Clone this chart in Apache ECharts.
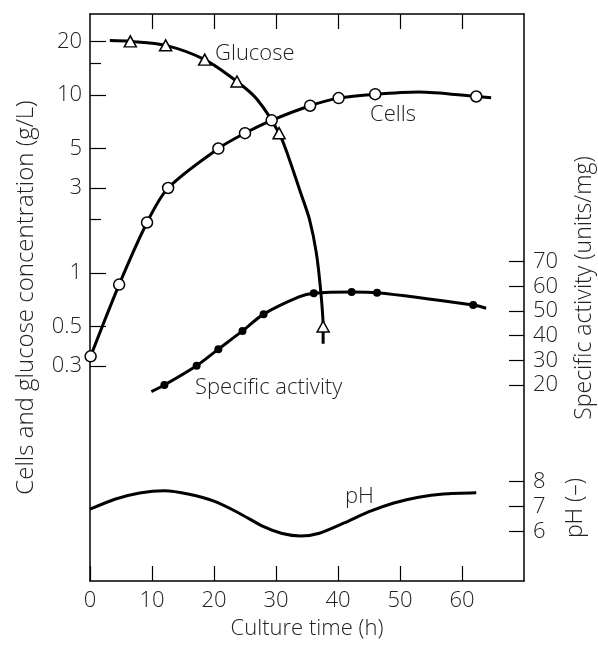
<!DOCTYPE html>
<html>
<head>
<meta charset="utf-8">
<script src="https://cdn.jsdelivr.net/npm/echarts@6/dist/echarts.min.js"></script>
<style>
  html, body { margin: 0; padding: 0; background: #fff; }
  #chart { width: 598px; height: 645px; }
</style>
</head>
<body>
<div id="chart"></div>
<script>
// values: [culture time (h), value]
var glucosePoints = [[6.5, 20], [12.2, 19], [18.5, 15.8], [23.7, 11.9], [30.5, 6.1], [37.6, 0.5]];
var glucoseCurve = [[3.2, 20.2], [6.5, 20], [12.2, 19], [18.5, 15.8], [23.7, 11.9], [27, 9.4], [30.5, 6.1],
  [32, 4.5], [34, 2.8], [35.4, 2.0], [36.5, 1.3], [37.2, 0.8], [37.6, 0.5], [37.6, 0.4]];
var cellPoints = [[0.1, 0.34], [4.7, 0.86], [9.2, 1.92], [12.6, 3.0], [20.7, 5.0], [25, 6.1], [29.3, 7.2],
  [35.5, 8.7], [40.1, 9.6], [46, 10.1], [62.3, 9.8]];
var cellCurve = [[0.1, 0.34], [4.7, 0.86], [9.2, 1.92], [12.6, 3.0], [20.7, 5.0], [25, 6.1], [29.3, 7.2],
  [35.5, 8.7], [40.1, 9.6], [46, 10.1], [53, 10.4], [62.3, 9.8], [64.7, 9.65]];
var activityPoints = [[12, 20], [17.2, 27.8], [20.7, 34.5], [24.6, 41.9], [28, 48.7], [36.1, 57.2],
  [42.2, 57.7], [46.3, 57.4], [61.8, 52.4]];
var activityCurve = [[9.9, 17.3], [12, 20], [17.2, 27.8], [20.7, 34.5], [24.6, 41.9], [28, 48.7],
  [33.8, 55.8], [36.1, 57.2], [42.2, 57.7], [46.3, 57.4], [61.8, 52.4], [63.9, 51.1]];
var phCurve = [[0, 6.9], [4, 7.3], [8, 7.55], [12, 7.64], [16, 7.5], [20, 7.22], [24, 6.75], [28, 6.2],
  [31, 5.93], [34, 5.83], [37, 5.94], [41, 6.35], [45, 6.8], [49, 7.15], [53, 7.38], [57, 7.51], [62.3, 7.56]];

var timeTicks = [0, 10, 20, 30, 40, 50, 60];
var concTicks = [0.3, 0.5, 1, 3, 5, 10, 20];
var concMinorTicks = [2, 15];
var activityTicks = [20, 30, 40, 50, 60, 70];
var phTicks = [6, 7, 8];

var FONT = 'Open Sans';
var WEIGHT = 350;
var ink = '#000';
var txt = '#222';

var chart = echarts.init(document.getElementById('chart'));

var lineStyle = { color: ink, width: 3 };
function labelFont(size) { return WEIGHT + ' ' + size + 'px "Open Sans"'; }

chart.setOption({
  animation: false,
  backgroundColor: '#fff',
  textStyle: { fontFamily: FONT, fontWeight: WEIGHT },
  grid: { left: 90, right: 74, top: 14, bottom: 64, containLabel: false },
  xAxis: [{
    type: 'value', min: 0, max: 70, position: 'bottom',
    name: 'Culture time (h)', nameLocation: 'middle', nameGap: 37,
    nameTextStyle: { fontSize: 22, color: txt, fontFamily: FONT, fontWeight: WEIGHT },
    axisLine: { show: true, onZero: false, lineStyle: { color: ink, width: 1.5 } },
    axisTick: { show: true, inside: true, length: 15, customValues: timeTicks, lineStyle: { color: ink, width: 1.2 } },
    axisLabel: { customValues: timeTicks, fontSize: 22, color: txt, margin: 9, fontFamily: FONT, fontWeight: WEIGHT },
    splitLine: { show: false }
  }, {
    type: 'value', min: 0, max: 70, position: 'top',
    axisLine: { show: true, onZero: false, lineStyle: { color: ink, width: 1.5 } },
    axisTick: { show: true, inside: true, length: 15, customValues: timeTicks.slice(1), lineStyle: { color: ink, width: 1.2 } },
    axisLabel: { show: false },
    splitLine: { show: false }
  }],
  yAxis: [{
    type: 'log', logBase: 10, min: 0.01858, max: 28.5, position: 'left',
    name: 'Cells and glucose concentration (g/L)', nameLocation: 'middle', nameGap: 52,
    nameTextStyle: { fontSize: 24, color: txt, fontFamily: FONT, fontWeight: WEIGHT },
    axisLine: { show: true, onZero: false, lineStyle: { color: ink, width: 1.5 } },
    axisTick: { show: true, inside: true, length: 16, customValues: concTicks, lineStyle: { color: ink, width: 1.2 } },
    axisLabel: { customValues: concTicks, fontSize: 22, color: txt, margin: 8, fontFamily: FONT, fontWeight: WEIGHT,
      formatter: function (v) { return String(+v.toPrecision(3)); } },
    splitLine: { show: false }
  }, {
    type: 'log', logBase: 10, min: 0.01858, max: 28.5, position: 'left',
    axisLine: { show: false, onZero: false },
    axisTick: { show: true, inside: true, length: 11, customValues: concMinorTicks, lineStyle: { color: ink, width: 1.2 } },
    axisLabel: { show: false },
    splitLine: { show: false }
  }, {
    type: 'value', min: -59.5, max: 170.4, position: 'right',
    axisLine: { show: true, onZero: false, lineStyle: { color: ink, width: 1.5 } },
    axisTick: { show: true, inside: true, length: 15, customValues: activityTicks, lineStyle: { color: ink, width: 1.2 } },
    axisLabel: { customValues: activityTicks, fontSize: 22, color: txt, margin: 9, fontFamily: FONT, fontWeight: WEIGHT },
    splitLine: { show: false }
  }, {
    type: 'value', min: 4.03, max: 26.7, position: 'right',
    axisLine: { show: false, onZero: false },
    axisTick: { show: true, inside: true, length: 15, customValues: phTicks, lineStyle: { color: ink, width: 1.2 } },
    axisLabel: { customValues: phTicks, fontSize: 22, color: txt, margin: 9, fontFamily: FONT, fontWeight: WEIGHT },
    splitLine: { show: false }
  }],
  graphic: [
    { type: 'text', x: 584, y: 288, rotation: Math.PI / 2,
      style: { text: 'Specific activity (units/mg)', font: labelFont(23), fill: txt, align: 'center', verticalAlign: 'middle' } },
    { type: 'text', x: 575, y: 508, rotation: Math.PI / 2,
      style: { text: 'pH (\u2013)', font: labelFont(23), fill: txt, align: 'center', verticalAlign: 'middle' } },
    { type: 'text', x: 215, y: 54, style: { text: 'Glucose', font: labelFont(22), fill: txt, align: 'left', verticalAlign: 'middle' } },
    { type: 'text', x: 370, y: 115, style: { text: 'Cells', font: labelFont(22), fill: txt, align: 'left', verticalAlign: 'middle' } },
    { type: 'text', x: 195, y: 388, style: { text: 'Specific activity', font: labelFont(22), fill: txt, align: 'left', verticalAlign: 'middle' } },
    { type: 'text', x: 345, y: 497, style: { text: 'pH', font: labelFont(22), fill: txt, align: 'left', verticalAlign: 'middle' } }
  ],
  series: [
    { name: 'Glucose curve', type: 'line', xAxisIndex: 0, yAxisIndex: 0, data: glucoseCurve,
      smooth: 0.3, showSymbol: false, lineStyle: lineStyle, z: 2 },
    { name: 'Cells curve', type: 'line', xAxisIndex: 0, yAxisIndex: 0, data: cellCurve,
      smooth: 0.3, showSymbol: false, lineStyle: lineStyle, z: 2 },
    { name: 'Activity curve', type: 'line', xAxisIndex: 0, yAxisIndex: 2, data: activityCurve,
      smooth: 0.3, showSymbol: false, lineStyle: lineStyle, z: 2 },
    { name: 'pH', type: 'line', xAxisIndex: 0, yAxisIndex: 3, data: phCurve,
      smooth: 0.25, showSymbol: false, lineStyle: lineStyle, z: 2 },
    { name: 'Glucose', type: 'scatter', xAxisIndex: 0, yAxisIndex: 0, data: glucosePoints,
      symbol: 'triangle', symbolSize: [12, 11],
      itemStyle: { color: '#fff', borderColor: ink, borderWidth: 1.5, opacity: 1 }, z: 5 },
    { name: 'Cells', type: 'scatter', xAxisIndex: 0, yAxisIndex: 0, data: cellPoints,
      symbol: 'circle', symbolSize: 11,
      itemStyle: { color: '#fff', borderColor: ink, borderWidth: 1.5, opacity: 1 }, z: 5 },
    { name: 'Specific activity', type: 'scatter', xAxisIndex: 0, yAxisIndex: 2, data: activityPoints,
      symbol: 'circle', symbolSize: 8,
      itemStyle: { color: ink, opacity: 1 }, z: 5 }
  ]
});
</script>
</body>
</html>
